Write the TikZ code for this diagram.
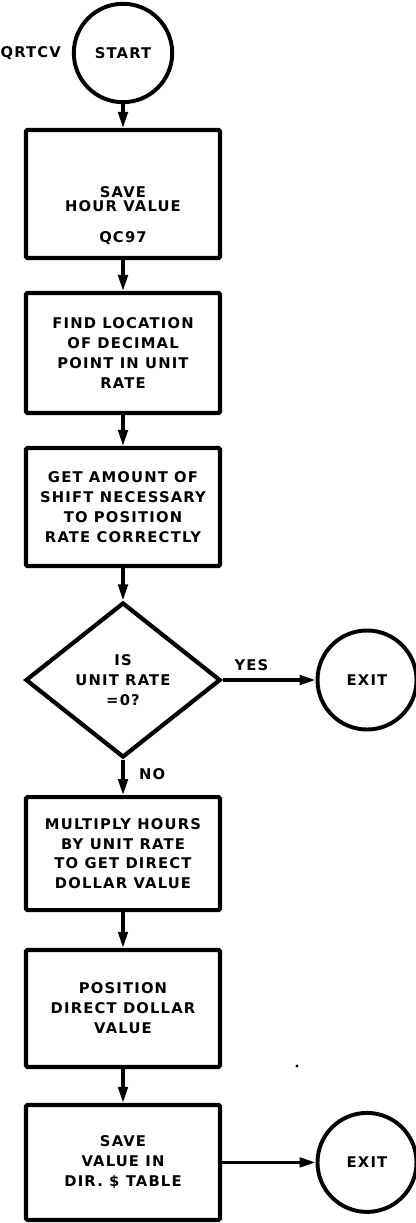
\documentclass[tikz,border=0pt]{standalone}
\usepackage{fontspec}
\setmainfont{DejaVu Sans}[LetterSpace=8]
\usetikzlibrary{shapes.geometric,arrows.meta,positioning}

\begin{document}
\begin{tikzpicture}[
    every node/.style={font=\fontsize{10.5pt}{14.2pt}\selectfont\bfseries, align=center},
    box/.style={draw, line width=3pt, rounded corners=1pt, minimum width=4.85cm, inner sep=0pt},
    term/.style={draw, circle, line width=2.8pt, inner sep=0pt},
    decision/.style={draw, diamond, aspect=1.25, line width=3pt, inner sep=0pt,
                     minimum width=4.875cm, minimum height=3.875cm},
    flow/.style={line width=2.2pt, -{Triangle[length=4mm,width=2.4mm]}}
]
\useasboundingbox (0,0) rectangle (10.4,-30.575);

% main column
\node[term, minimum size=2.46cm] (start) at (3.075,-1.325) {START};
\node (qrtcv) [left=0.15cm of start] {QRTCV};
\node[box, minimum height=3.2cm] (save) at (3.075,-4.85) {};
\node (saveT) at (3.075,-5.39) {SAVE\\[-4pt]HOUR VALUE\\[8pt]QC97};
\node[box, minimum height=3cm] (find) at (3.075,-8.825) {FIND LOCATION\\OF DECIMAL\\POINT IN UNIT\\RATE};
\node[box, minimum height=2.95cm] (shift) at (3.075,-12.675) {GET AMOUNT OF\\SHIFT NECESSARY\\TO POSITION\\RATE CORRECTLY};
\node[decision] (test) at (3.075,-17) {IS\\UNIT RATE\\=0?};
\node[box, minimum height=2.825cm] (mult) at (3.075,-21.34) {MULTIPLY HOURS\\BY UNIT RATE\\TO GET DIRECT\\DOLLAR VALUE};
\node[box, minimum height=2.925cm] (posn) at (3.075,-25.21) {POSITION\\DIRECT DOLLAR\\VALUE};
\node[box, minimum height=2.875cm] (store) at (3.075,-29.06) {SAVE\\VALUE IN\\DIR. \$ TABLE};

% exits
\node[term, minimum size=2.475cm] (exitA) at (9.175,-17) {EXIT};
\node[term, minimum size=2.475cm] (exitB) at (9.175,-29.06) {EXIT};

\draw[flow] (start) -- (save);
\draw[flow] (save) -- (find);
\draw[flow] (find) -- (shift);
\draw[flow] (shift) -- (test);
\draw[flow] (test) -- node[pos=0.31, above=2pt] {YES} (exitA);
\draw[flow] (test) -- node[pos=0.41, right=7pt] {NO} (mult);
\draw[flow] (mult) -- (posn);
\draw[flow] (posn) -- (store);
\draw[flow] (store) -- (exitB);

\fill (7.425,-26.65) circle (0.04);
\end{tikzpicture}
\end{document}
